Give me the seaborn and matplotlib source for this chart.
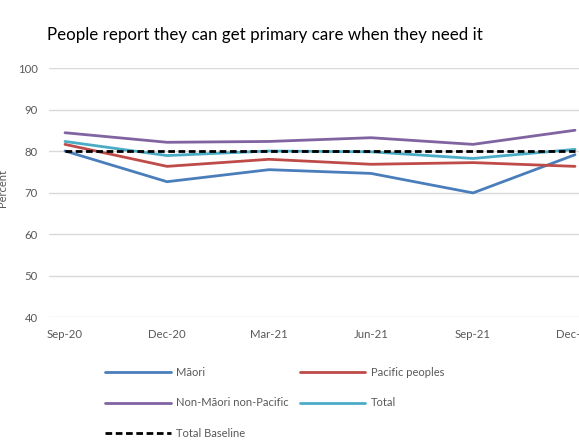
import matplotlib
matplotlib.use("Agg")
import matplotlib.pyplot as plt
import seaborn as sns
import pandas as pd

# Survey quarters
quarters = ["Sep-20", "Dec-20", "Mar-21", "Jun-21", "Sep-21", "Dec-21"]

# Percent of people who can get primary care when they need it
maori = [80.0, 72.6, 75.5, 74.6, 69.9, 79.1]
pacific = [81.6, 76.3, 78.0, 76.8, 77.2, 76.3]
non_maori_non_pacific = [84.4, 82.1, 82.3, 83.2, 81.6, 85.0]
total = [82.3, 78.9, 80.0, 79.8, 78.2, 80.4]
total_baseline = [80.0, 80.0, 80.0, 80.0, 80.0, 80.0]

y_ticks = [40, 50, 60, 70, 80, 90, 100]

series = [
    ("Māori", maori, "#4A7EBB", "-"),
    ("Pacific peoples", pacific, "#BE4B48", "-"),
    ("Non-Māori non-Pacific", non_maori_non_pacific, "#8064A2", "-"),
    ("Total", total, "#4BACC6", "-"),
    ("Total Baseline", total_baseline, "#000000", (0, (2.4, 1.3))),
]

sns.set_theme(style="white")
plt.rcParams["font.family"] = ["Lato", "DejaVu Sans"]

fig = plt.figure(figsize=(5.79, 4.46), dpi=100)
ax = fig.add_axes([49 / 579, 1 - 317 / 446, (626 - 49) / 579, (317 - 68) / 446])

handles = {}
for name, values, color, ls in series:
    df = pd.DataFrame({"x": range(len(quarters)), "y": values})
    sns.lineplot(data=df, x="x", y="y", ax=ax, color=color, linewidth=2.0,
                 linestyle=ls, label=name, legend=False)
    handles[name] = ax.lines[-1]

ax.set_ylim(40, 100)
ax.set_xlim(-0.157, 5.5)
ax.set_yticks(y_ticks)
ax.set_xticks(range(len(quarters)))
ax.set_xticklabels(quarters)
ax.grid(axis="y", color="#D9D9D9", linewidth=1.0)
ax.grid(axis="x", visible=False)
for s in ax.spines.values():
    s.set_visible(False)
ax.tick_params(axis="both", length=0, labelsize=8.2, colors="#595959")
ax.tick_params(axis="y", pad=8)
ax.tick_params(axis="x", pad=9)
ax.set_xlabel("")
ax.set_ylabel("")

fig.text(8 / 579, 1 - 188 / 446, "Percent", rotation=90, fontsize=8,
         color="#595959", ha="right", va="center")

fig.text(47 / 579, 1 - 35 / 446, "People report they can get primary care when they need it",
         fontsize=12.2, color="#000000", ha="left", va="center")

order = ["Māori", "Non-Māori non-Pacific", "Total Baseline", "Pacific peoples", "Total"]
fig.legend([handles[n] for n in order], order, ncol=2, frameon=False,
           loc="upper left", bbox_to_anchor=(95 / 579, 1 - 357 / 446),
           fontsize=8, labelcolor="#595959", handlelength=5.9,
           handletextpad=0.5, columnspacing=1.0, labelspacing=1.75)

fig.savefig("out.png", dpi=100)
